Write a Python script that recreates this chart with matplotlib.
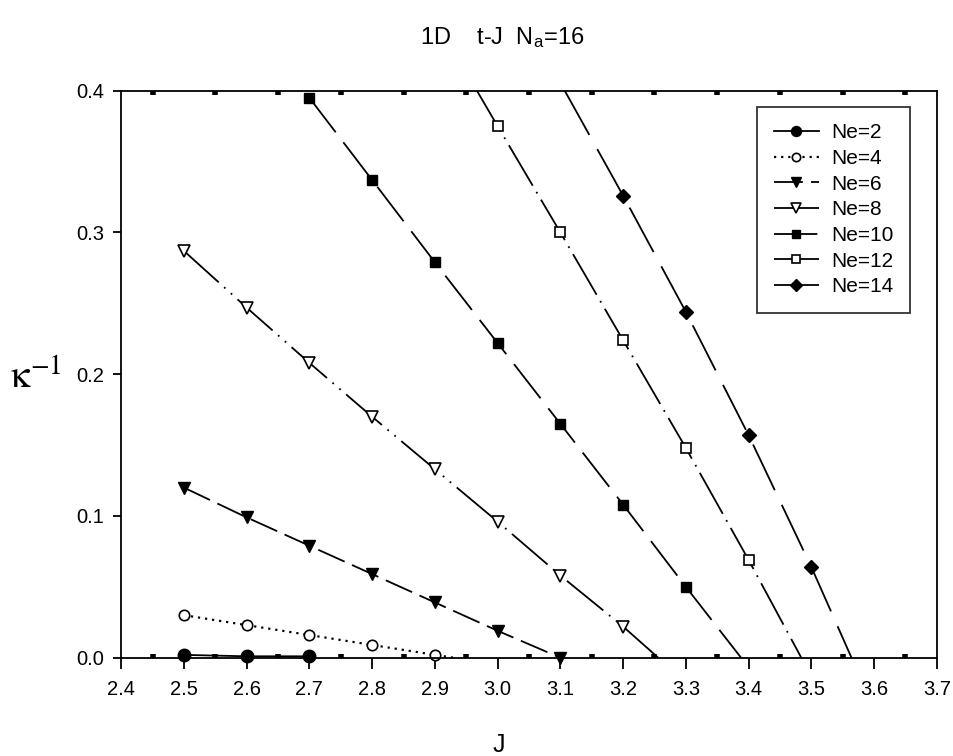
import numpy as np
import matplotlib
matplotlib.use("Agg")
import matplotlib.pyplot as plt
from matplotlib.ticker import MultipleLocator, FormatStrFormatter

plt.rcParams['font.family'] = ['Liberation Sans', 'DejaVu Sans']
plt.rcParams['mathtext.fontset'] = 'stix'

# data; first/last entries of the "line" arrays are
# where each curve leaves the frame (no marker there)
j2 = [2.5, 2.6, 2.7]
k2 = [0.002, 0.001, 0.001]

j4 = [2.5, 2.6, 2.7, 2.8, 2.9, 2.93]
k4 = [0.030, 0.023, 0.016, 0.009, 0.002, 0.0]

j6 = [2.5, 2.6, 2.7, 2.8, 2.9, 3.0, 3.1]
k6 = [0.120, 0.099, 0.079, 0.059, 0.039, 0.019, 0.000]

j8 = [2.5, 2.6, 2.7, 2.8, 2.9, 3.0, 3.1, 3.2, 3.256]
k8 = [0.287, 0.247, 0.208, 0.170, 0.133, 0.096, 0.058, 0.022, 0.0]

j10 = [2.7, 2.8, 2.9, 3.0, 3.1, 3.2, 3.3, 3.388]
k10 = [0.395, 0.337, 0.279, 0.222, 0.165, 0.108, 0.050, 0.0]

j12 = [2.967, 3.0, 3.1, 3.2, 3.3, 3.4, 3.484]
k12 = [0.40, 0.375, 0.300, 0.224, 0.148, 0.069, 0.0]

j14 = [3.107, 3.2, 3.3, 3.4, 3.5, 3.564]
k14 = [0.40, 0.326, 0.244, 0.157, 0.064, 0.0]

labels = ['Ne=2', 'Ne=4', 'Ne=6', 'Ne=8', 'Ne=10', 'Ne=12', 'Ne=14']

fig = plt.figure(figsize=(9.54, 7.56), dpi=100)
ax = fig.add_axes([0.127, 0.130, 0.855, 0.750])

lw = 1.3
ax.plot(j2, k2, '-', color='k', lw=lw, marker='o', ms=9, mfc='k', mec='k',
        label=labels[0], clip_on=False)
ax.plot(j4, k4, color='k', lw=1.6, ls=(0, (1, 2.2)), marker='o', ms=7.5, mfc='white',
        mec='k', mew=1.2, markevery=[0, 1, 2, 3, 4], label=labels[1], clip_on=False)
ax.plot(j6, k6, color='k', lw=lw, ls=(0, (16, 4.5)), marker='v', ms=9, mfc='k',
        mec='k', label=labels[2], clip_on=False)
ax.plot(j8, k8, color='k', lw=lw, ls=(0, (26, 4, 1, 4, 1, 4)), marker='v', ms=9,
        mfc='white', mec='k', mew=1.2, markevery=list(range(8)), label=labels[3],
        clip_on=False)
ax.plot(j10, k10, color='k', lw=lw, ls=(0, (24, 7)), marker='s', ms=7.5, mfc='k',
        mec='k', markevery=list(range(7)), label=labels[4], clip_on=False)
ax.plot(j12, k12, color='k', lw=lw, ls=(0, (26, 4, 1, 4)), marker='s', ms=7,
        mfc='white', mec='k', mew=1.2, markevery=[1, 2, 3, 4, 5], label=labels[5])
ax.plot(j14, k14, color='k', lw=lw, ls=(0, (28, 9)), marker='D', ms=7.5, mfc='k',
        mec='k', markevery=[1, 2, 3, 4], label=labels[6])

ax.set_xlim(2.4, 3.7)
ax.set_ylim(0.0, 0.4)
ax.xaxis.set_major_locator(MultipleLocator(0.1))
ax.xaxis.set_minor_locator(MultipleLocator(0.05))
ax.yaxis.set_major_locator(MultipleLocator(0.1))
ax.xaxis.set_major_formatter(FormatStrFormatter('%.1f'))
ax.yaxis.set_major_formatter(FormatStrFormatter('%.1f'))

ax.tick_params(axis='x', which='major', direction='out', length=8, width=1.3,
               labelsize=14.5, top=False, pad=8)
ax.tick_params(axis='x', which='minor', direction='in', length=3, width=4,
               top=True, bottom=True)
ax.tick_params(axis='y', which='major', direction='out', length=6, width=1.3,
               labelsize=14.5, right=False, pad=6)
for s in ax.spines.values():
    s.set_linewidth(1.3)

fig.text(0.527, 0.950, r'1D    t-J  N$_\mathregular{a}$=16', ha='center', va='center',
         fontsize=17)
fig.text(0.523, 0.015, 'J', ha='center', va='center', fontsize=18)
fig.text(0.037, 0.500, r'$\mathrm{\kappa}^{-1}$', ha='center', va='center', fontsize=28)

leg = ax.legend(loc='upper right', bbox_to_anchor=(0.967, 0.972), fontsize=15,
                frameon=True, fancybox=False, edgecolor='k', handlelength=2.2,
                borderpad=0.8, labelspacing=0.32, handletextpad=0.55,
                borderaxespad=0.0, markerscale=0.8)
leg.get_frame().set_linewidth(1.3)

fig.savefig('out.png', dpi=100)
